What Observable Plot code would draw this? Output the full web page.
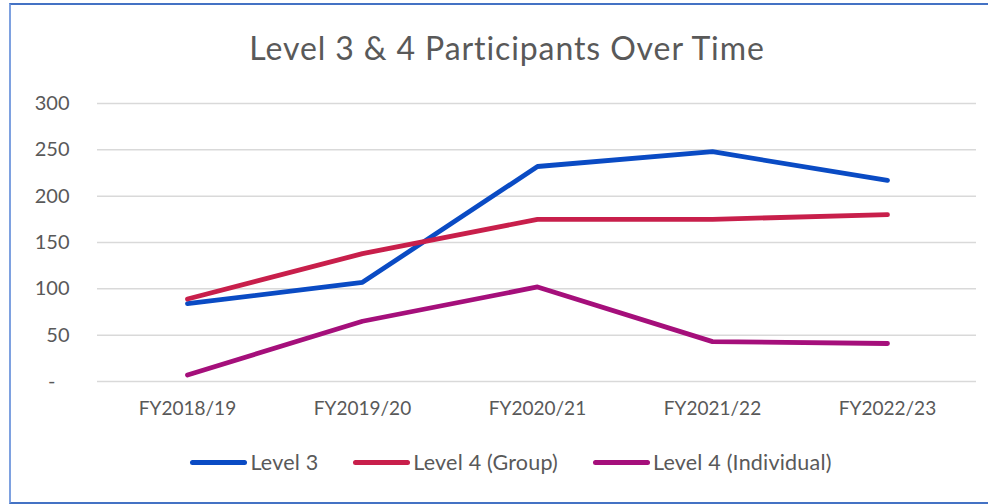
<!DOCTYPE html>
<html>
<head>
<meta charset="utf-8">
<script src="https://cdn.jsdelivr.net/npm/d3@7"></script>
<script src="https://cdn.jsdelivr.net/npm/@observablehq/plot@0.6"></script>
<style>
  html, body { margin: 0; padding: 0; background: #fff; width: 988px; height: 504px; overflow: hidden; }
  #frame { position: absolute; left: 9px; top: 3px; width: 990px; height: 497px;
    border-top: 2px solid #4472c4; border-left: 2px solid #7ea1e0; border-bottom: 2px solid #4472c4; }
  #title { position: absolute; left: 0; top: 28px; width: 1014px; text-align: center;
    font-family: Lato, "Open Sans", sans-serif; font-size: 32px; letter-spacing: 0.9px; color: #595959; }
  #chart { position: absolute; left: 0; top: 0; }
  #legend { position: absolute; top: 449px; left: 0; width: 1022px; display: flex; justify-content: center;
    font-family: Lato, sans-serif; font-size: 21.5px; letter-spacing: 0.2px; color: #595959; }
  .item { display: flex; align-items: center; margin: 0 17.5px; }
  .sw { width: 57px; height: 5px; border-radius: 3px; margin-right: 3px; }
</style>
</head>
<body>
<div id="frame"></div>
<div id="title">Level 3 &amp; 4 Participants Over Time</div>
<div id="chart"></div>
<div id="legend"></div>
<script>
const years = ["FY2018/19", "FY2019/20", "FY2020/21", "FY2021/22", "FY2022/23"];
const seriesNames = ["Level 3", "Level 4 (Group)", "Level 4 (Individual)"];
const level3 = [84, 107, 232, 248, 217];
const level4Group = [89, 138, 175, 175, 180];
const level4Individual = [7, 65, 102, 43, 41];
const yTicks = [0, 50, 100, 150, 200, 250, 300];
const colors = ["#0a4bc4", "#c81f4b", "#a50f7b"];

const allSeries = [level3, level4Group, level4Individual];
const data = [];
allSeries.forEach((vals, s) => vals.forEach((v, i) => data.push({year: years[i], value: v, series: seriesNames[s]})));

const chart = Plot.plot({
  width: 988,
  height: 424,
  marginLeft: 97,
  marginRight: 12,
  marginTop: 103,
  marginBottom: 43,
  style: {fontFamily: "Lato, sans-serif", fontSize: "20px", color: "#595959", background: "transparent"},
  x: {type: "point", domain: years, padding: 0.5, label: null},
  y: {domain: [0, 300], ticks: yTicks, label: null},
  color: {domain: seriesNames, range: colors},
  marks: [
    Plot.gridY(yTicks, {stroke: "#d9d9d9", strokeOpacity: 1, strokeWidth: 1.5}),
    Plot.axisY(yTicks, {tickSize: 0, tickPadding: 28, label: null, fontSize: 20,
      tickFormat: d => d === 0 ? "-\u2007\u2009" : String(d), fill: "#595959"}),
    Plot.axisX({tickSize: 0, tickPadding: 20, label: null, fontSize: 19, fill: "#595959"}),
    Plot.line(data, {x: "year", y: "value", z: "series", stroke: "series",
      strokeWidth: 4.8, strokeLinecap: "round", strokeLinejoin: "round"})
  ]
});
document.getElementById("chart").appendChild(chart);

const legend = document.getElementById("legend");
seriesNames.forEach((name, i) => {
  const item = document.createElement("div");
  item.className = "item";
  const sw = document.createElement("div");
  sw.className = "sw";
  sw.style.background = colors[i];
  const label = document.createElement("span");
  label.textContent = name;
  item.appendChild(sw);
  item.appendChild(label);
  legend.appendChild(item);
});
</script>
</body>
</html>
